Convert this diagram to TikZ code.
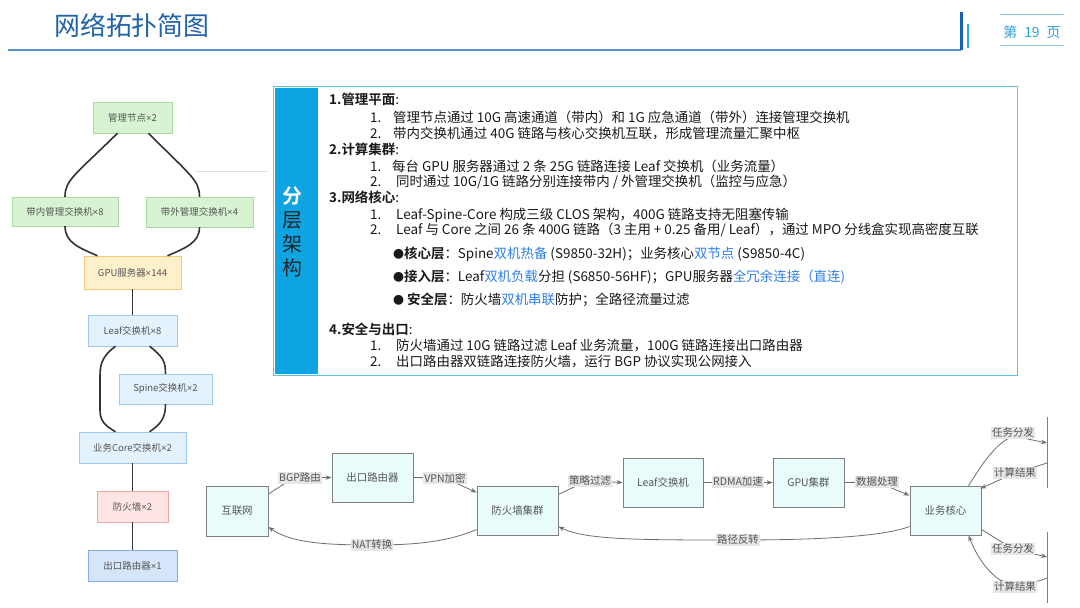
\documentclass[tikz,border=0pt]{standalone}
\usepackage{fontspec}
\setmainfont{Noto Sans CJK SC}[BoldFont={Noto Sans CJK SC Bold}]
\newfontfamily\latf{Liberation Sans}
\usetikzlibrary{arrows.meta,calc}
\definecolor{ttl}{HTML}{2063A8}
\definecolor{hdrline}{HTML}{5A8FD2}
\definecolor{barA}{HTML}{1A5FB4}
\definecolor{barB}{HTML}{2AA6E2}
\definecolor{pgline}{HTML}{8ACBEA}
\definecolor{pgtext}{HTML}{2B9FDA}
\definecolor{mgF}{HTML}{D8F3D2}
\definecolor{mgB}{HTML}{A9DBA0}
\definecolor{gpF}{HTML}{FFF0CC}
\definecolor{gpB}{HTML}{F4C97B}
\definecolor{bluF}{HTML}{E3F2FD}
\definecolor{bluB}{HTML}{9CC9F2}
\definecolor{fwF}{HTML}{FFE4E4}
\definecolor{fwB}{HTML}{F0A8A8}
\definecolor{exF}{HTML}{D5E5FA}
\definecolor{exB}{HTML}{86AEE6}
\definecolor{ntxt}{HTML}{555555}
\definecolor{lnk}{HTML}{333333}
\definecolor{boxB}{HTML}{5CC4E6}
\definecolor{colF}{HTML}{0EA3E2}
\definecolor{hl}{HTML}{2F80E8}
\definecolor{flF}{HTML}{EAFBFB}
\definecolor{flB}{HTML}{7F7F7F}
\definecolor{fedge}{HTML}{6E6E6E}
\definecolor{lblF}{HTML}{E6E6E6}
\newcommand\fsz[1]{\fontsize{#1}{#1}\selectfont}
\newcommand\itm[2]{\makebox[#1bp][l]{#2}}
\newcommand\tms{{\latf ×}}
\begin{document}
\begin{tikzpicture}[x=1bp,y=-1bp,
  tnode/.style={rectangle,inner sep=0pt,text=ntxt,font=\fsz{9.5}},
  mgmt/.style={tnode,draw=mgB,fill=mgF},
  gpu/.style={tnode,draw=gpB,fill=gpF},
  netb/.style={tnode,draw=bluB,fill=bluF},
  fwb/.style={tnode,draw=fwB,fill=fwF},
  exb/.style={tnode,draw=exB,fill=exF},
  link/.style={draw=lnk,line width=1.6bp},
  tx/.style={anchor=base west,inner sep=0pt,font=\fsz{13.5},text=black!90},
  flow/.style={rectangle,draw=flB,fill=flF,line width=0.9bp,text=ntxt,font=\fsz{10.5},minimum height=49bp,inner sep=0pt},
  fl/.style={draw=fedge,line width=0.8bp,-{Stealth[length=6bp,width=4.5bp]}},
  lbl/.style={fill=lblF,inner sep=1.2pt,text=ntxt,font=\fsz{10.5}}
]
\useasboundingbox (0,0) rectangle (1080,608);
\fill[white] (0,0) rectangle (1080,608);
% ---------- header ----------
\node[anchor=west,inner sep=0pt,text=ttl,font=\fsz{26}] (title) at (54,25) {网络拓扑简图};
\coordinate (hl0) at (8,50);
\coordinate (hl1) at (961,50);
\coordinate (hb0) at (961,12);
\coordinate (hc0) at (968,24);
\coordinate (hc1) at (968,48);
\draw[hdrline,line width=1.2bp] (hl0) -- (hl1);
\draw[barA,line width=3bp] (hb0) -- (hl1);
\draw[barB,line width=2bp] (hc0) -- (hc1);
\coordinate (p0) at (1000,15);
\coordinate (p1) at (1064,15);
\coordinate (p2) at (1000,46);
\coordinate (p3) at (1064,46);
\draw[pgline,line width=1bp] (p0) -- (p1);
\draw[pgline,line width=1bp] (p2) -- (p3);
\node[inner sep=0pt,text=pgtext,font=\fsz{14}] (page) at (1032,32) {第\hspace{7bp}19\hspace{7bp}页};
% faint line
\coordinate (f0) at (195,171);
\coordinate (f1) at (268,171);
\draw[black!12,line width=0.8bp] (f0) -- (f1);
% ---------- left topology ----------
\node[mgmt,minimum width=79bp,minimum height=31bp] (n1) at (132.5,117.5) {管理节点\tms2};
\node[mgmt,minimum width=106bp,minimum height=29bp] (n2) at (65,211.5) {带内管理交换机\tms8};
\node[mgmt,minimum width=107bp,minimum height=30bp] (n3) at (199.5,212) {带外管理交换机\tms4};
\node[gpu,minimum width=97bp,minimum height=33bp] (n4) at (132.5,272.5) {GPU服务器\tms144};
\node[netb,minimum width=89bp,minimum height=31bp] (n5) at (132.5,330.5) {Leaf交换机\tms8};
\node[netb,minimum width=93bp,minimum height=30bp] (n6) at (165.5,389) {Spine交换机\tms2};
\node[netb,minimum width=107bp,minimum height=31bp] (n7) at (132.5,447.5) {业务Core交换机\tms2};
\node[fwb,minimum width=71bp,minimum height=31bp] (n8) at (132.5,506.5) {防火墙\tms2};
\node[exb,minimum width=89bp,minimum height=31bp] (n9) at (132.5,565.5) {出口路由器\tms1};
\draw[link] ($(n1.south)+(-15,0)$) .. controls (75,175) and (65,180) .. (n2.north);
\draw[link] ($(n1.south)+(16,0)$) .. controls (190,175) and (199.5,180) .. (n3.north);
\draw[link] (n2.south) .. controls (65,243) and (80,248) .. ($(n4.north)+(-35,0)$);
\draw[link] (n3.south) .. controls (199.5,243) and (185,248) .. ($(n4.north)+(35,0)$);
\draw[link] (n4.south) -- (n5.north);
\draw[link] ($(n5.south)+(-17,0)$) .. controls (100,358) and (100,366) .. (100,380) -- (100,410) .. controls (100,422) and (106,426) .. ($(n7.north)+(-17,0)$);
\draw[link] ($(n5.south)+(17,0)$) .. controls (163,357) and (165.5,361) .. (n6.north);
\draw[link] (n6.south) .. controls (165.5,418) and (161,424) .. ($(n7.north)+(17,0)$);
\draw[link] (n7.south) -- (n8.north);
\draw[link] (n8.south) -- (n9.north);
% ---------- text panel ----------
\node[draw=boxB,line width=1bp,minimum width=743bp,minimum height=288bp,inner sep=0pt] (panel) at (645.5,231) {};
\node[fill=colF,minimum width=43bp,minimum height=286bp,inner sep=0pt,anchor=north west] (col) at ($(panel.north west)+(1,1)$) {};
\node[inner sep=0pt,text=white,font=\fsz{20}\bfseries] (c1) at (292,196) {分};
\node[inner sep=0pt,text=black!85,font=\fsz{20}] (c2) at (292,220) {层};
\node[inner sep=0pt,text=black!85,font=\fsz{20}] (c3) at (292,244) {架};
\node[inner sep=0pt,text=black!85,font=\fsz{20}] (c4) at (292,268) {构};
\node[tx] (h1) at (329,105) {\textbf{1.管理平面}:};
\node[tx] (r11) at (370,123) {\itm{23}{1.}管理节点通过 10G 高速通道（带内）和 1G 应急通道（带外）连接管理交换机};
\node[tx] (r12) at (370,139) {\itm{23}{2.}带内交换机通过 40G 链路与核心交换机互联，形成管理流量汇聚中枢};
\node[tx] (h2) at (329,155) {\textbf{2.计算集群}:};
\node[tx] (r21) at (370,172) {\itm{22}{1.}每台 GPU 服务器通过 2 条 25G 链路连接 Leaf 交换机（业务流量）};
\node[tx] (r22) at (370,187) {\itm{26}{2.}同时通过 10G/1G 链路分别连接带内 / 外管理交换机（监控与应急）};
\node[tx] (h3) at (329,203) {\textbf{3.网络核心}:};
\node[tx] (r31) at (370,220) {\itm{26}{1.}Leaf-Spine-Core 构成三级 CLOS 架构，400G 链路支持无阻塞传输};
\node[tx] (r32) at (370,235) {\itm{26}{2.}Leaf 与 Core 之间 26 条 400G 链路（3 主用 + 0.25 备用/ Leaf），通过 MPO 分线盒实现高密度互联};
\node[tx] (b1) at (393,259) {{\fsz{11}●}\textbf{核心层}：Spine\textcolor{hl}{双机热备} (S9850-32H)；业务核心\textcolor{hl}{双节点} (S9850-4C)};
\node[tx] (b2) at (393,282) {{\fsz{11}●}\textbf{接入层}：Leaf\textcolor{hl}{双机负载}分担 (S6850-56HF)；GPU服务器\textcolor{hl}{全冗余连接（直连)}};
\node[tx] (b3) at (393,305) {{\fsz{11}●} \textbf{安全层}：防火墙\textcolor{hl}{双机串联}防护；全路径流量过滤};
\node[tx] (h4) at (329,334) {\textbf{4.安全与出口}:};
\node[tx] (r41) at (370,350) {\itm{26}{1.}防火墙通过 10G 链路过滤 Leaf 业务流量，100G 链路连接出口路由器};
\node[tx] (r42) at (370,366) {\itm{26}{2.}出口路由器双链路连接防火墙，运行 BGP 协议实现公网接入};
% ---------- bottom flow ----------
\node[flow,minimum width=62bp,minimum height=50bp] (net) at (237,511) {互联网};
\node[flow,minimum width=81bp] (rt) at (372.5,477.5) {出口路由器};
\node[flow,minimum width=81bp] (fw) at (517.5,510.5) {防火墙集群};
\node[flow,minimum width=80bp] (leaf) at (663,482.5) {Leaf交换机};
\node[flow,minimum width=71bp] (gpu) at (808.5,482.5) {GPU集群};
\node[flow,minimum width=71bp] (core) at (945.5,510.5) {业务核心};
\coordinate (ra0) at (1047,417);
\coordinate (ra1) at (1047,488);
\coordinate (rb0) at (1047,532);
\coordinate (rb1) at (1047,603);
\draw[flB,line width=0.9bp] (ra0) -- (ra1);
\draw[flB,line width=0.9bp] (rb0) -- (rb1);
\coordinate (ta) at (1047,443);
\coordinate (tb) at (1047,463);
\coordinate (tc) at (1047,557);
\coordinate (td) at (1047,578);
% edges
\draw[fl] ($(net.east)+(0,-17)$) -- (284,484) -- (300,478) -- (rt.west);
\draw[fl] (rt.east) -- (445,478) -- ($(fw.west)+(0,-18)$);
\draw[fl] ($(fw.west)+(0,19)$) .. controls (445,543) and (410,545) .. (372,545) .. controls (320,545) and (290,542) .. ($(net.east)+(0,16)$);
\draw[fl] ($(fw.east)+(0,-16)$) -- (574,487) -- (590,481) -- (leaf.west);
\draw[fl] (leaf.east) -- (gpu.west);
\draw[fl] (gpu.east) -- (877,482) -- ($(core.west)+(0,-15)$);
\draw[fl] ($(core.west)+(0,16)$) .. controls (880,538) and (800,540) .. (738,540) .. controls (640,540) and (585,540) .. ($(fw.east)+(0,16)$);
\draw[fl] ($(core.north)+(23,0)$) .. controls (978,472) and (992,445) .. (1013,436) -- (ta);
\draw[fl] (tb) -- (1015,473) -- ($(core.north east)+(-1,3)$);
\draw[fl] ($(core.south east)+(0,-6)$) -- (1013,549) -- (tc);
\draw[fl] (td) .. controls (1030,585) and (1012,585) .. (1000,580) .. controls (985,570) and (975,552) .. ($(core.south)+(23,0)$);
% labels
\node[lbl] (lb1) at (300,478) {BGP路由};
\node[lbl] (lb2) at (445,478) {VPN加密};
\node[lbl] (lb3) at (372,545) {NAT转换};
\node[lbl] (lb4) at (590,481) {策略过滤};
\node[lbl] (lb5) at (738,482) {RDMA加速};
\node[lbl] (lb6) at (877,482) {数据处理};
\node[lbl] (lb7) at (738,540) {路径反转};
\node[lbl] (lb8) at (1013,433) {任务分发};
\node[lbl] (lb9) at (1015,473) {计算结果};
\node[lbl] (lb10) at (1013,549) {任务分发};
\node[lbl] (lb11) at (1015,587) {计算结果};
\end{tikzpicture}
\end{document}
